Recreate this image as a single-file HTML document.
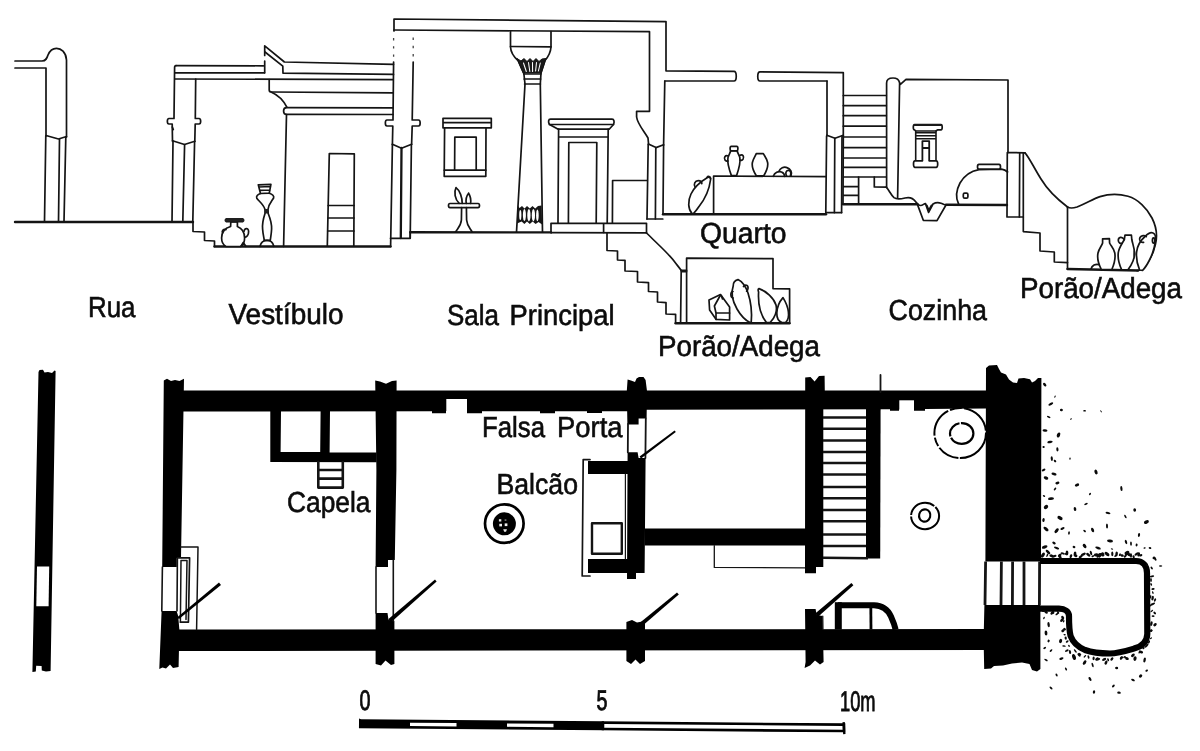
<!DOCTYPE html>
<html lang="pt">
<head>
<meta charset="utf-8">
<title>Casa - Corte e Planta</title>
<style>
html,body{margin:0;padding:0;background:#fff;}
body{width:1200px;height:751px;overflow:hidden;}
svg{display:block;filter:blur(0.45px);}
.l{fill:none;stroke:#141414;stroke-width:1.7;stroke-linecap:round;stroke-linejoin:round;}
.lw{fill:#fff;stroke:#141414;stroke-width:1.7;stroke-linecap:round;stroke-linejoin:round;}
.t{fill:none;stroke:#141414;stroke-width:2.4;stroke-linecap:round;stroke-linejoin:round;}
.k{fill:#000;stroke:none;}
.w{fill:#fff;stroke:none;}
.lab{font-family:"Liberation Sans","DejaVu Sans",sans-serif;font-size:29px;fill:#0c0c0c;stroke:#0c0c0c;stroke-width:0.6;text-rendering:geometricPrecision;}
.num{font-family:"Liberation Sans","DejaVu Sans",sans-serif;font-size:28.5px;fill:#0c0c0c;stroke:#0c0c0c;stroke-width:0.9;text-rendering:geometricPrecision;}
</style>
</head>
<body>
<svg width="1200" height="751" viewBox="0 0 1200 751">
<rect x="0" y="0" width="1200" height="751" fill="#fff"/>

<!-- ================= SECTION (top) ================= -->
<g id="section">

<!-- street ground + steps down into vestibule -->
<path class="t" d="M15,222 L193,222"/>
<path class="l" d="M193,222 L193,231.5 L204.5,232 L204.5,240.5 L214.5,241 L214.5,246.5"/>
<path class="t" d="M214.5,246.5 L390.5,246.5"/>

<!-- street pillar -->
<path class="l" d="M15,61 L42,61 C46,61 47,58 48,55 C50,50 53,48.3 56.5,48.3 C61,48.3 66,52 66.5,60 L66.5,137"/>
<path class="l" d="M15,68 L46,68 L46,136"/>
<path class="l" d="M46,135.5 L58.5,139 L66.5,136.5"/>
<path class="l" d="M45.8,136 L44.5,222 M59.5,139 L58.5,222 M65.8,137 L64,222"/>

<!-- vestibule left pillar + roof lines -->
<path class="l" d="M176,65.6 L263.5,65.8 M175,72.8 L264.5,72.8 M175,79 L393,79.6"/>
<path class="l" d="M176,65.6 C174.8,65.6 174.6,66.2 174.6,67.5 L174,118.5 L169,118.5 C166.8,118.5 166.8,124 169,124 L172.2,124 L172.5,141"/>
<path class="l" d="M195.7,79 L195.3,118.5 L199,118.5 C201.2,118.5 201.2,124 199,124 L195.2,124 L194.8,141.5"/>
<path class="l" d="M172.5,140.8 L184.5,144.5 L194.8,141.3"/>
<path class="l" d="M173,141 L172,222 M184.6,144.5 L182.8,222 M194.6,141.5 L192.8,222"/>
<path class="l" d="M172.3,127 L173.3,129.5"/>

<!-- vestibule roof ramp -->
<path class="l" d="M264.7,72.8 L264.7,61 M264.7,55.5 L264.7,45.8 L284.4,62 L393.5,64.4"/>
<path class="l" d="M265,52 L282.8,66.2 L283,73.2 L393.5,74.4"/>


<!-- cornice of chapel -->
<path class="l" d="M269.2,79.5 L269.2,90 C269.2,91.5 270,92 271.5,92 L393,92.8"/>
<path class="l" d="M271.5,92.2 Q281.5,96.5 287,107.3"/>
<path class="l" d="M393,107.8 L286.5,107.6 C282.6,107.6 282.6,114.4 286.5,114.4 L393,114.5"/>
<path class="l" d="M286.5,114.5 L283.6,246.5"/>
<!-- chapel door -->
<path class="l" d="M327.3,246 L329.3,153.5 L354.3,153.8 L353.8,246"/>
<path class="l" d="M328.2,205.5 L354,205.5 M328,218 L354,218 M327.7,231 L354,231"/>

<!-- pot in vestibule -->
<path class="lw" d="M230.8,222 L230.6,226.5 C224,228.5 221.6,233 221.6,238 C221.6,242 223.5,245 226,246.5 L240.5,246.5 C243,245 244.6,242 244.6,238 C244.6,233 242.5,228.5 237.4,226.5 L237.4,222 Z"/>
<path d="M226,218.6 L243,218.6 C244.3,218.6 244.3,222 243,222 L226,222 C224.7,222 224.7,218.6 226,218.6 Z" fill="#222" stroke="#141414" stroke-width="1"/>
<path class="l" d="M222.5,233 C221.5,230.5 223.5,228.8 226,229.6"/>
<path class="l" d="M244,231.5 C244.5,228 248.5,227.5 248.6,231.5 C248.7,235 246.5,237.5 244.8,237"/>
<path class="l" d="M241,246.3 L243.3,242.5 L245.8,246.3"/>
<!-- tall stand in vestibule -->
<path class="l" d="M258.3,184.8 L270.9,184.3 L269.3,193.2 L260.5,193.5 Z M258.8,187 L270.6,186.5 M259.7,190.3 L270,190"/>
<path class="l" d="M260.5,193.5 C257.5,194.5 256,196.5 256.8,198.2 C258.5,201 263.5,204 265,209.5 L265,213.5 C263.5,218 262.2,224 262.6,229 C262.9,234 264,238 264.3,240.3"/>
<path class="l" d="M269.3,193.2 C272.5,194.2 274.3,196.2 273.6,198 C272,201 268.6,204 268,209.5 L268.2,213.5 C270,218 271.8,224 271.6,229 C271.4,234 270.5,238 270.3,240.3"/>
<path d="M264.8,209 L268.3,209 L268.3,213.5 L264.8,213.5 Z" fill="#222"/>
<path class="l" d="M264.3,240.3 L270.3,240.3"/>
<path class="l" d="M260,246.3 C261,242 264,240.4 267,240.4 C270.5,240.4 273,242.5 273.8,246.3"/>

<!-- pillar between vestibule and main hall -->
<path class="l" d="M393.6,62 L393,120 L387,120 C384.8,120 384.8,126 387,126 L392.8,126 L392.4,144.5"/>
<path class="l" d="M413.2,62 L412.2,120 L418.5,120 C420.7,120 420.7,126 418.5,126 L412.2,126 L411.6,144.5"/>
<path class="l" d="M392.4,144.2 L401.5,148.2 L411.6,144.2"/>
<path class="l" d="M392.4,144.5 L390.6,246.5 M411.4,144.5 L410.2,238"/>
<path class="l" d="M401.5,148 L400.8,238" style="stroke-width:2.3;"/>
<path class="l" d="M390.5,238.3 L410.2,238.3 L410.2,232"/>
<path d="M393.6,38 L393.6,58 M413.2,37.6 L413.2,58" fill="none" stroke="#444" stroke-width="1.3" stroke-dasharray="2.4 5.8" stroke-linecap="butt"/>

<!-- main hall roof -->
<path class="l" d="M394,31 L394,19 L666,21.6 L666,70.8 L734,71.3 C737,71.3 737,81 734,81 L664.8,81"/>
<path class="l" d="M394,30 L649.5,31.7 L649.5,111.3 L636.6,111.3 L636.6,117 C637.5,124 644,131 648,138 L648.6,144.3"/>
<path class="l" d="M664.8,81 L663.6,145"/>
<path class="l" d="M648.4,144 L656,147.6 L663.6,144.8"/>
<path class="l" d="M648.2,144.5 L647,219 M655.8,147.6 L655.4,219 M663.6,145 L663,214.3"/>
<path class="l" d="M647,219 L662.8,219"/>

<!-- main hall floor -->
<path class="t" d="M410.2,232.2 L551,232.4"/>
<path class="l" d="M551,232.6 L646.5,232.8"/>

<!-- niche window in main hall -->
<path class="l" d="M443,118.3 L491.3,118.3 L491.3,127.8 L443,127.8 Z M443,122.6 L491.3,122.6"/>
<path class="l" d="M444.6,127.8 L444.2,176.3 L485.8,176.3 L486,127.8"/>
<path class="l" d="M444.3,170.2 L485.8,170.2"/>
<path class="l" d="M454.6,170 L454.8,137.2 L476.2,137.2 L476.2,170"/>

<!-- table in main hall -->
<path class="lw" d="M450,203.5 L478,203.5 C480,203.5 480,207.6 478,207.6 L450,207.6 C448,207.6 448,203.5 450,203.5 Z"/>
<path class="l" d="M461.6,207.6 L461.4,220 C461,226 457.5,228.5 455.5,232 M466.4,207.6 L466.6,220 C467,226 470.5,228.5 472.2,232"/>
<path class="l" d="M456,187.6 C453.8,192 454.8,199.5 459.2,203.3 M456,187.6 C460,190.5 462.2,197.5 462.2,203.3"/>
<path class="l" d="M468.6,193.2 C466,196.5 465.8,200.5 466.3,203.3 M468.6,193.2 C470.6,196.5 471,200.5 470.6,203.3"/>

<!-- big column -->
<path class="l" d="M510.5,31 L510.5,47 C510.8,53 514,57 518,60.5 L523.5,73 M551,31.5 L551,47 C550.6,53 548,57 545,60.5 L541,73"/>
<path class="l" d="M510.5,46.5 L551,46.8"/>
<path d="M517,58.5 L521,61 L524,58.6 L527,61.5 L530,58.6 L533,61.5 L536,58.6 L539,61.5 L542,59 L546,58.5 L541.2,73 L523.3,73 Z" fill="#1a1a1a" stroke="#141414" stroke-width="1"/>
<path d="M523.5,63 L526.3,71.5 M528.5,62.5 L529.8,71.5 M532.5,62.5 L532.6,71.5 M536.5,62.5 L535.6,71 M540.3,63 L538.4,71" stroke="#fff" stroke-width="1.05" fill="none" stroke-linecap="round"/>
<path class="l" d="M523.8,74 L540.8,74 M524.2,79 L540.6,79 M524.6,84 L540.4,84"/>
<path class="l" d="M523.8,73 L525,84 L516.5,232 M541,73 L540.3,84 L542.5,232"/>
<!-- column base decor -->
<path d="M517.8,205.5 L519.5,208 L522,206 L524.5,208.5 L527,206 L529.8,208.5 L532.5,206 L535.2,208.5 L538,206 L541.6,205.5 L542.1,224.5 L538.5,222 L535.6,224 L532.6,221.6 L529.8,224 L527,221.6 L524.4,224 L521.6,221.6 L517,223.5 Z" fill="#161616"/>
<ellipse cx="520.3" cy="215" rx="1.1" ry="5" fill="#fff"/>
<ellipse cx="524.4" cy="215" rx="1.5" ry="6" fill="#fff"/>
<ellipse cx="528.9" cy="215.2" rx="1.6" ry="6.2" fill="#fff"/>
<ellipse cx="533.4" cy="215.2" rx="1.6" ry="6.2" fill="#fff"/>
<ellipse cx="537.4" cy="215.4" rx="1.3" ry="5.8" fill="#fff"/>

<!-- false door -->
<path class="l" d="M550.5,119.2 L612,119.2 C614.3,119.2 614.5,122 613.5,124.5 L609.2,129.2 L558.2,129.2 L549.5,124.5 C548,122 548.3,119.2 550.5,119.2 Z"/>
<path class="l" d="M549.5,124.5 L613.5,124.5"/>
<path class="l" d="M558.6,129.2 L558,223 M608.2,129.2 L607.2,223 M558.5,137 L608,137"/>
<path class="l" d="M568.4,223 L568.8,142.5 L596.8,142.5 L596.2,223"/>
<!-- bench -->
<path class="l" d="M612.4,223 L612.6,180.5 L647.3,180.5"/>
<!-- dais -->
<path class="l" d="M551,232.5 L551,223.3 L646.5,223.3 L646.5,232.5 M603.6,223.3 L603.6,232.5"/>

<!-- stairs down to cellar -->
<path class="l" d="M607,233 L607,250.5 L617.5,251 L617.5,260 L625,260.3 L625,271 L637.5,271.5 L637.5,282 L648.5,282.6 L648.5,291.5 L657.5,292 L657.5,302 L666,302.6 L666,314 L675.6,314.3 L675.6,323"/>
<path class="t" d="M675.6,323.2 L789.5,323.2"/>
<path class="l" d="M646.5,233 C656,242.5 668,253 674,261 C677,265 679.5,268 681.3,270.5"/>
<path class="l" d="M681,270.3 L686.6,270.3 M681,271.6 L686.6,271.6 M681.2,271 L680.6,323"/>
<path class="l" d="M686.6,323 L686.6,258.2 L773,258.6 L773,288.6 L789.6,288.8 L789.6,323"/>

<!-- cellar jars -->
<path class="l" d="M709,300 L720.5,294.6 L729.6,307 L729.6,320 L716,319.3 L709.6,310 Z"/>
<path class="l" d="M720.5,295 L714.4,306 L716,313 L729.6,313 M716,313 L716,319.3 M721.5,296 L722.5,299"/>
<path class="lw" d="M738,279.6 C735,280.5 733,282.5 733.2,286 C731,292 732.5,301 737,309 C741,316 746,320.5 750,322.6 L751.2,322.6 C752,314 751,302 748,293 C745.8,287 742,281.5 738,279.6 Z"/>
<path class="l" d="M733,291.5 C730.3,291.5 730,297.5 733.2,298"/>
<path class="l" d="M743.5,286.5 C745,284 748.5,285 748,288.5 C747.8,290 747,291 746.6,291.2"/>
<path class="lw" d="M759,288.6 C757.8,289 758,290.5 758.6,292 C758,302 759.5,314 766.5,322.6 L770,322.6 C775,318 777.5,311 776,305 C774,298 766,291 759,288.6 Z"/>
<path class="lw" d="M783,297.6 C780,301 777,307 776.8,313 C776.7,318 779,321.5 782,322.6 L785.6,322.6 C788,320 789,316 788.4,312 C788,308 786,302.5 783,297.6 Z"/>

<!-- Quarto: roof right part and wall -->
<path class="l" d="M827,81 L760,81 C757,81 757,71.8 760,71.8 L843.3,72.6 L843.3,136"/>
<path class="l" d="M827,81 L827,135.6"/>
<path class="l" d="M826.8,135.2 L835,138.3 L843.3,135.2"/>
<path class="l" d="M826.6,136 L825.8,212.6 M834.8,138.3 L834.4,212.6 M842,136 L841.6,212.6"/>
<path class="l" d="M825.8,212.6 L841.6,212.6"/>
<!-- Quarto floor + table -->
<path class="t" d="M663,214.3 L826,214.3"/>
<path class="l" d="M713.6,214 L713.6,176 L826.2,176.6"/>
<!-- leaning jar -->
<path class="lw" d="M692,213.6 C688,209 687.6,201 691,194 C694,188 701,181.5 707.5,177.6 C709,176.6 711,177.6 710.6,179.5 C709.5,188 705,199 699,206.5 C697,209.5 694.5,212.5 693.4,213.6 Z"/>
<path class="l" d="M695.2,187.2 C693.2,184.2 695,180.6 698.2,180.6 C701,180.6 702,182.5 701.8,183.6"/>
<path class="l" d="M707,177.4 C708,175.8 710.6,176.4 710.6,178.6"/>
<!-- amphora on table -->
<path class="lw" d="M731.4,175.6 C729,169 727,162 728,157.5 C728.8,154.5 730.4,153 730.6,150.6 L737.2,150.6 C737.4,153 739,154.5 739.8,157.5 C740.8,162 738.8,169 736.6,175.6 Z"/>
<path class="lw" d="M731.3,146.3 L736.7,146.3 C738.3,146.3 738.3,150.8 736.7,150.8 L731.3,150.8 C729.7,150.8 729.7,146.3 731.3,146.3 Z"/>
<path class="l" d="M728.4,156 C725,154.5 723.6,158 725,160 C726,161.5 727.8,161.3 728,161"/>
<path class="l" d="M739.6,155.5 C743,153.6 744.4,157 743,159.2 C742,160.6 740.3,160.6 740,160.2"/>
<!-- jar 2 on table -->
<path class="lw" d="M756.3,175.8 C753.3,171 751.6,166.5 752.4,162.5 C753.2,158.5 755.3,156 756.3,153.6 L763.3,153.6 C764.6,156 766.8,158.5 767.6,162.5 C768.4,166.5 766.6,171 763.8,175.8 Z"/>
<!-- object 3 -->
<path class="l" d="M773.3,176.3 C774.5,172.5 778.5,170.8 781.5,172 C784,173 784.6,175 784.6,176.3"/>
<path class="l" d="M779,171.3 C780,168 784,166.3 787,167.6 C790.5,169 792.6,172.5 791,176"/>
<path class="l" d="M786.6,176 C785,173 786,170.6 788.3,170.4 C790.5,170.3 791.5,173 790.3,176"/>

<!-- stairs Quarto->Kitchen -->
<path class="l" d="M843.3,95.5 L886.3,95.5 M843.3,105.6 L886.3,105.6 M843.3,115.7 L886.3,115.7 M843.3,126.2 L886.3,126.2 M843.3,137 L886.3,137 M843.3,147.6 L886.3,147.6 M843.3,158 L886.3,158 M843.3,167.3 L886.3,167.3 M843.3,177 L886.3,177"/>
<path class="l" d="M843.3,136 L843,204 M843,186.6 L858.6,186.6 M843,195.3 L858.6,195.3 M858.6,177 L858.6,204"/>
<path class="l" d="M874.3,177 L874.3,187 L886.3,187.2"/>
<!-- kitchen wall left pillar -->
<path class="l" d="M886.6,187.5 L886.6,83 C886.6,79.5 889.5,78 893,78 C896.5,78 899,79.8 899.5,82.5 L900.4,84.3 L906,79.3 L1008,80 L1008,152.5"/>
<path class="l" d="M899.6,83.5 L897.6,198"/>
<!-- wavy ground line into kitchen -->
<path class="l" d="M886.3,187.2 C889,190 891,195 894,197.6 C897,200 901,199 905,198 C909,197 913,198 915.5,201.5 C917,203.5 918.5,205.5 920.5,205.5 C923,205.5 924,203.3 925.5,203.6 L928.6,212.4 L933,204 C935.5,202.6 939,202.6 941,203.3 C943,204 944.6,205 946,205"/>
<path class="l" d="M917.5,204.6 L923.3,220.3 L937,220.6 L946,205"/>
<path class="l" d="M926.8,205.5 L928.8,210.5 L931.4,205.6" style="stroke-width:2;"/>
<!-- kitchen floor -->
<path class="t" d="M843,204.3 L917.5,204.3 M946,204.8 L1007,205"/>
<!-- kitchen niche -->
<path class="lw" d="M914.5,124.6 L941,124.6 C942.6,124.6 942.6,129.8 941,129.8 L937.5,129.8 L936,131 L915.8,131 L914.5,129.8 C912.9,129.8 912.9,124.6 914.5,124.6 Z" style="stroke-width:1.7;"/>
<path d="M914,124 L941.6,124 L941.6,126 L914,126 Z" fill="#1a1a1a"/>
<path class="l" d="M915.7,131 L915.7,160.8 M936,131 L936,160.8 M915.7,132.7 L936,132.7 M915.7,135.7 L936,135.7 M915.7,138.7 L936,138.7" style="stroke-width:1.6;"/>
<path class="l" d="M922.4,161 L922.4,141.2 L929.2,141.2 L929.2,161 M922.4,148 L929.2,148" style="stroke-width:1.8;"/>
<path class="lw" d="M922.4,160.8 L915,160.8 C913,160.8 913,167.4 915,167.4 L936.2,167.4 C938.2,167.4 938.2,160.8 936.2,160.8 L929.2,160.8" style="stroke-width:1.7;"/>
<!-- oven -->
<path class="l" d="M958.6,204 C955.6,198 956.3,190 960,183 C964,176 971,171 979,169.6 L1001.5,169.2 C1004,169.6 1006,170.6 1007.6,172"/>
<path class="lw" d="M979,164.4 L999,164.4 C1001,164.4 1001,169.2 999,169.2 L979,169.2 C977,169.2 977,164.4 979,164.4 Z"/>
<rect x="963.3" y="193.2" width="4.6" height="5" rx="1.4" class="l"/>

<!-- right of kitchen: box, slope, stairs, cellar -->
<path class="l" d="M1007.4,152.5 L1025,152.8 M1007.3,152.5 L1007,217 L1023.3,217"/>
<path class="l" d="M1019.7,153 L1019.4,217 M1023.3,153 L1023.3,231.6 L1040,233 L1040,251 L1054.3,252 L1054.3,262 L1067.5,262.6"/>
<path class="l" d="M1025,152.8 C1029,157 1034,168 1041,179 C1047,189 1057,199 1067.5,207"/>
<path class="l" d="M1067.5,207 L1067.5,269"/>
<path class="l" d="M1067.5,207 C1070,208.6 1073,208.3 1077,207 C1086,203.5 1093,199 1100,196.6 C1108,194.2 1119,193.8 1128,196.3 C1138,199.3 1147,208 1152,218 C1156,226 1157.5,236 1155.5,244 C1153.5,253 1149,262 1143,268 C1141,270 1139,270.6 1137,270.6"/>
<path class="t" d="M1067.5,269 L1138,270.5"/>
<!-- cellar jars right -->
<path class="l" d="M1091,269 C1092,265.5 1095.5,263.6 1099,264.6"/>
<path class="lw" d="M1101.3,269.3 C1098.5,264 1097,258 1098,253 C1099,248.5 1102,245.5 1102.6,243 L1102.6,238.8 L1109.4,238.6 L1109.6,243 C1110.5,245.5 1114,248.5 1114.8,253 C1115.6,258 1114.3,264 1111.8,269.5 Z"/>
<path class="lw" d="M1121.6,269.6 C1119,264 1117.6,258 1118.3,252.5 C1119,247.5 1122.5,243 1124.3,239.5 L1125,235.2 L1131.4,235 L1131.8,239.5 C1132.5,243.5 1134.4,248 1134.6,253 C1134.8,259 1131.5,265 1128,269.8 Z"/>
<path class="l" d="M1124.3,239.5 C1122,236 1118.3,237 1118.3,240.3 C1118.3,243 1120.5,243.8 1122,243.3"/>
<path class="lw" d="M1139.6,270 C1137.5,265 1136,258 1136.6,252 C1137.2,246 1140.5,240.5 1145,236.5 C1147,234.5 1149.5,232.6 1151.5,232.6 C1153.5,232.6 1155.3,234.5 1155.5,237 C1155.6,243 1153.5,252 1149.5,260 C1147.5,264 1145,268 1142.6,270.3 Z"/>
<path class="l" d="M1143.6,242.3 C1140.5,243 1138.6,240 1140,237.5 C1141.3,235.3 1144.6,235 1146.3,236.6"/>
<ellipse cx="1153.6" cy="240.5" rx="1.2" ry="2.6" class="l"/>
<path d="M1134.2,249 C1135.6,252 1135.6,256 1134.2,259 C1133,256 1133,252 1134.2,249 Z" fill="#1a1a1a"/>
</g>

<!-- ================= LABELS ================= -->
<g id="labels" class="lab">
<text x="88" y="317" textLength="47.5" lengthAdjust="spacingAndGlyphs">Rua</text>
<text x="228.5" y="324" textLength="115" lengthAdjust="spacingAndGlyphs">Vestíbulo</text>
<text y="325"><tspan x="447" textLength="52" lengthAdjust="spacingAndGlyphs">Sala</tspan> <tspan x="509.5" textLength="105" lengthAdjust="spacingAndGlyphs">Principal</tspan></text>
<text x="700" y="243" textLength="86.5" lengthAdjust="spacingAndGlyphs">Quarto</text>
<text x="658" y="355.5" textLength="162" lengthAdjust="spacingAndGlyphs">Porão/Adega</text>
<text x="888.5" y="319.5" textLength="98.5" lengthAdjust="spacingAndGlyphs">Cozinha</text>
<text x="1020" y="297.5" textLength="162" lengthAdjust="spacingAndGlyphs">Porão/Adega</text>
<text y="437.2"><tspan x="482" textLength="63" lengthAdjust="spacingAndGlyphs">Falsa</tspan> <tspan x="557" textLength="65.5" lengthAdjust="spacingAndGlyphs">Porta</tspan></text>
<text x="496.5" y="493.5" textLength="81.5" lengthAdjust="spacingAndGlyphs">Balcão</text>
<text x="287" y="511.5" textLength="83.5" lengthAdjust="spacingAndGlyphs">Capela</text>
</g>

<!-- ================= PLAN (bottom) ================= -->
<g id="plan">
<!-- street wall -->
<path class="k" d="M38.5,372 L39.5,370 L43,369.8 L44.5,372.5 L48,372 L52,373 L54.5,370.5 L55.6,371 L50.6,671 L46,671.6 L41.8,670.6 L41.6,666 L36.2,665.8 L35.8,671.6 L32.4,672 Z"/>
<path class="w" d="M37,566.4 L49.2,566.4 L48.6,606.3 L36.3,606.3 Z"/>

<!-- top wall -->
<path class="k" d="M183,390.5 L986,390.5 L986,408.4 L925,409 L925,410.8 L914,410.8 L914,409.4 L899,409.4 L899,410.8 L890,410.8 L890,409.2 L646,409.8 L628,411.2 L602,411.3 L602,413 L587,413 L587,411.3 L555,411.3 L555,413.2 L540,413.2 L540,411.3 L482,411.3 L482,413.2 L467,413.2 L467,411 L446,411 L446,413.2 L432,413.2 L432,411.3 L183,411.5 Z"/>
<path class="w" d="M446.3,399 L467,399 L467,413.6 L446.3,413.6 Z"/>
<path class="w" d="M899.3,400.3 L914,400.3 L914,411.2 L899.3,411.2 Z"/>
<!-- bottom wall -->
<path class="k" d="M178,629.5 L986,629 L986,650 L178,651 Z"/>

<!-- left house wall -->
<path class="k" d="M163.8,380.5 L167,378.8 L171,381 L175,380 L179.5,381 L184,378.8 L181,558 L176.8,558 L176.8,567 L162.2,567 Z"/>
<path class="k" d="M161.6,611 L176.6,611 L178.2,616 L179.4,630 L178.6,667 L173,668 L170,664.5 L166,668.5 L162.5,667.5 L159.3,669 Z"/>
<path class="l" d="M162.4,567 L161.8,611 M177.4,558 L177,611" style="stroke-width:1.6;"/>
<!-- door step rects -->
<path class="l" d="M181,547 L198,547 L196.6,629.5" style="stroke-width:1.5;"/>
<path class="l" d="M177.6,557.8 L189.6,557.8 L188.4,622.2 L180.4,622.2" style="stroke-width:1.7;"/>
<path class="l" d="M181,560.6 L187,560.6 L186,619.6 M181,560.6 L180.4,622" style="stroke-width:1.5;"/>
<path d="M177,617.5 L219,582.5 L221,585 L179,619 Z" class="k"/>

<!-- chapel walls -->
<path class="k" d="M270.3,411 L281,411 L280.6,452 L320.2,452 L320.6,411 L330,411 L329.6,452.4 L376.6,452.6 L376.6,462.2 L270.3,462 Z"/>
<!-- chapel steps -->
<path class="l" d="M318.3,462 L318.3,487.6 L342.8,487.6 L342.8,462 M318.3,470 L342.8,470 M318.3,478.6 L342.3,478.6" style="stroke-width:2.6;"/>

<!-- wall vestibule / main hall -->
<path class="k" d="M375.2,380.6 L380,381.4 L386,383.8 L392,381 L396.6,380.6 L396.4,470 L394.8,560 L388,560 L388,567 L375.6,567 L376.4,470 Z"/>
<path class="k" d="M375.6,613 L387.5,613 L388.5,620 L394.4,621 L394.4,664 L391,665 L385.5,660.5 L381,665.5 L375.6,664 Z"/>
<path class="l" d="M376,567 L376,613 M393.3,560 L393.3,621" style="stroke-width:1.6;"/>
<path d="M388.2,619.2 L435,579.6 L436.6,581.4 L390.8,622.4 Z" class="k"/>

<!-- wall main hall / quarto -->
<path class="k" d="M626.8,391 L627.6,379.6 L631,380.6 L635,382 L636.5,378.5 L639,377 L643.5,377 L645.6,380 L647,391 L646.6,418.6 L638.6,418.6 L638.6,424.4 L627.4,424.4 Z"/>
<path class="k" d="M627.6,452.3 L637.6,452.3 L638.6,458 L645.6,458 L644.6,573 L636,573 L636,579 L627,579 Z"/>
<path class="l" d="M628,424 L627.8,452.3 M645.8,418.5 L645.4,458" style="stroke-width:1.8;"/>
<path d="M639.6,456.6 L674.6,430.4 L675.8,432 L641,458.6 Z" class="k"/>
<!-- balcony -->
<path class="k" d="M588,461 L628,461 L628,474 L588,474 Z"/>
<path class="k" d="M588,559 L628,559 L628,573 L588,573 Z"/>
<path class="l" d="M590,459.6 L583.2,459.6 L582.2,576 L590,576" style="stroke-width:1.7;"/>
<path class="l" d="M625.4,474 L625.4,559" style="stroke-width:1.2;"/>
<path class="l" d="M592,523.2 L621.8,523.2 L621.8,553.8 L592,553.8 Z" style="stroke-width:2.4;"/>

<!-- quarto bottom wall + bed -->
<path class="k" d="M644.6,528.5 L806,528.5 L806,545.6 L644.6,545.6 Z"/>
<path class="l" d="M714.3,545.6 L714.3,567.4 L806,567.8" style="stroke-width:1.3;"/>

<!-- stairs (plan) -->
<path class="k" d="M805.2,377.6 L810.5,377 L814.6,381.5 L819,376 L824.6,375.8 L824.8,391 L823.3,391 L823.3,567 L816,567 L816,573.3 L805,573.3 Z"/>
<path class="k" d="M866,409 L880.6,409 L880.2,558.6 L866,558.6 Z"/>
<path class="l" d="M880.5,375 L880.5,392" style="stroke-width:1.8;"/>
<path class="l" d="M823,417.5 L866,417.5 M823,428.8 L866,428.8 M823,440.4 L866,440.4 M823,452 L866,452 M823,463 L866,463 M823,474.6 L866,474.6 M823,487 L866,487 M823,498.3 L866,498.3 M823,510 L866,510 M823,521.3 L866,521.3 M823,534.5 L866,534.5 M823,546 L866,546 M823,557.8 L868,558.2" style="stroke-width:2.5;stroke-linecap:butt;"/>

<!-- bottom piers -->
<path class="k" d="M626.4,622 L632,620 L637,622.5 L645,621 L645,661 L640,664 L635.5,659.5 L631,664 L626.4,661 Z"/>
<path d="M640.2,622.6 L677,592.4 L678.8,594.4 L642.8,625.4 Z" class="k"/>
<path class="k" d="M805,609 L815.6,609 L816.6,615 L822.6,616 L823.6,662 L820,664.5 L815,660.5 L810,665.5 L804.6,668 L805.6,662 Z"/>
<path d="M815.2,613.6 L851.4,583 L853.4,585.2 L817.8,617 Z" class="k"/>
<!-- kitchen shape near door -->
<path d="M838,605.2 L874,605.3 C883,605.6 888,610 891,616.5 C893,621 894.6,625 895.6,629.5" fill="none" stroke="#000" stroke-width="6" stroke-linecap="butt"/>
<path d="M838.3,602.2 L838.3,629.5" fill="none" stroke="#000" stroke-width="7"/>
<path d="M870.8,606 L871,629.5" fill="none" stroke="#000" stroke-width="2.8"/>
<path class="l" d="M822.8,616 L823,629.5" style="stroke-width:1.2;"/>

<!-- circles -->
<circle cx="504.3" cy="523.6" r="19.3" fill="none" stroke="#000" stroke-width="2.7"/>
<circle cx="504.4" cy="523.8" r="11.5" fill="#000"/>
<rect x="498.9" y="519.2" width="2.4" height="2.3" fill="#e8e8e8"/>
<rect x="504.6" y="519.3" width="1.8" height="1.6" fill="#777"/>
<rect x="499.3" y="523.8" width="2.7" height="2.6" fill="#f2f2f2"/>
<rect x="504.7" y="523.4" width="2.7" height="2.7" fill="#f2f2f2"/>
<path d="M503.2,529.2 L507,529.2 L506,531.8 L504.2,531.8 Z" fill="#e8e8e8"/>
<ellipse cx="960.2" cy="433" rx="25.8" ry="25" fill="none" stroke="#000" stroke-width="2" stroke-dasharray="40 1.5 22 2 9 2 30 2 12 2.5 33 2"/>
<ellipse cx="961.7" cy="433.5" rx="11.7" ry="10.4" fill="none" stroke="#000" stroke-width="2.2" stroke-dasharray="30 1.5 18 1.5 40 2"/>
<ellipse cx="925.1" cy="516" rx="14" ry="13.2" fill="none" stroke="#000" stroke-width="2" stroke-dasharray="42 1.5 30 1.5"/>
<ellipse cx="924.7" cy="515.5" rx="5.6" ry="6.2" fill="none" stroke="#000" stroke-width="2.1" transform="rotate(15 924.7 515.5)"/>

<!-- thick right wall -->
<path class="k" d="M986,368 L989,365.5 L997,365 L999,369 L1001,372.5 L1006,374.5 L1009,379.5 L1013,382.5 L1017,383 L1018.5,378.6 L1024,378 L1030,379.3 L1032,382.5 L1035,381 L1038,378 L1041.4,378 L1041,561.6 L985.4,561.6 Z"/>
<path class="k" d="M984.4,605 L1040.4,605 L1040.4,669 L1037,671.5 L1032,670 L1029.5,664 L1022,662.4 L1012,663.6 L1003,665.4 L994,666 L991,668.6 L984.2,669 L983.6,640 Z"/>
<path class="l" d="M985.6,561.6 L985,605 M1001.4,561.6 L1001,605 M1012.6,561.6 L1012.4,605 M1024,561.6 L1024,605 M1039.6,561.6 L1039.4,605" style="stroke-width:2.8;stroke-linecap:butt;"/>

<!-- underground cellar (plan) -->
<path d="M1040,561 L1136,561 C1143,561 1147,566 1147,573 L1147.3,634 C1147,642 1142,646.5 1134,648.6 C1126,651 1118,653.5 1110,653.5 C1101,653.5 1092,652.6 1085,650 C1078,647 1073,642.5 1070.6,636 C1069,630 1069,622 1069,616 C1069,611.5 1065,608.8 1059,608.7 L1040,608.6" fill="none" stroke="#000" stroke-width="6.2" stroke-linejoin="round"/>
</g>
<!-- stipple (earth) -->
<g fill="#0a0a0a">
<ellipse cx="1044.7" cy="384.7" rx="2.1" ry="1.3" transform="rotate(49 1044.7 384.7)"/>
<ellipse cx="1055.0" cy="396.6" rx="1.2" ry="0.6" transform="rotate(112 1055.0 396.6)"/>
<ellipse cx="1050.8" cy="404.0" rx="2.7" ry="1.2" transform="rotate(151 1050.8 404.0)"/>
<ellipse cx="1061.4" cy="410.0" rx="1.5" ry="1.3" transform="rotate(13 1061.4 410.0)"/>
<ellipse cx="1084.6" cy="410.8" rx="1.4" ry="0.8" transform="rotate(7 1084.6 410.8)"/>
<ellipse cx="1101.0" cy="411.3" rx="1.3" ry="0.5" transform="rotate(55 1101.0 411.3)"/>
<ellipse cx="1048.7" cy="417.0" rx="1.9" ry="0.8" transform="rotate(24 1048.7 417.0)"/>
<ellipse cx="1071.0" cy="419.0" rx="1.0" ry="0.6" transform="rotate(149 1071.0 419.0)"/>
<ellipse cx="1045.0" cy="430.5" rx="2.5" ry="1.3" transform="rotate(8 1045.0 430.5)"/>
<ellipse cx="1058.5" cy="435.0" rx="2.7" ry="1.6" transform="rotate(113 1058.5 435.0)"/>
<ellipse cx="1050.0" cy="442.0" rx="2.7" ry="1.2" transform="rotate(172 1050.0 442.0)"/>
<ellipse cx="1057.4" cy="449.4" rx="2.1" ry="1.1" transform="rotate(85 1057.4 449.4)"/>
<ellipse cx="1051.8" cy="458.7" rx="2.4" ry="1.1" transform="rotate(84 1051.8 458.7)"/>
<ellipse cx="1055.0" cy="461.0" rx="1.5" ry="1.0" transform="rotate(49 1055.0 461.0)"/>
<ellipse cx="1070.0" cy="458.7" rx="1.1" ry="0.7" transform="rotate(93 1070.0 458.7)"/>
<ellipse cx="1096.0" cy="472.0" rx="2.5" ry="1.5" transform="rotate(70 1096.0 472.0)"/>
<ellipse cx="1054.0" cy="474.0" rx="2.6" ry="1.4" transform="rotate(15 1054.0 474.0)"/>
<ellipse cx="1046.0" cy="478.0" rx="2.4" ry="1.5" transform="rotate(23 1046.0 478.0)"/>
<ellipse cx="1057.4" cy="483.0" rx="2.1" ry="1.3" transform="rotate(163 1057.4 483.0)"/>
<ellipse cx="1077.0" cy="485.0" rx="2.3" ry="1.4" transform="rotate(158 1077.0 485.0)"/>
<ellipse cx="1121.4" cy="488.6" rx="2.5" ry="1.1" transform="rotate(83 1121.4 488.6)"/>
<ellipse cx="1055.0" cy="489.0" rx="1.7" ry="0.9" transform="rotate(129 1055.0 489.0)"/>
<ellipse cx="1090.0" cy="494.0" rx="1.2" ry="0.9" transform="rotate(129 1090.0 494.0)"/>
<ellipse cx="1051.0" cy="498.7" rx="3.0" ry="1.4" transform="rotate(176 1051.0 498.7)"/>
<ellipse cx="1046.0" cy="507.0" rx="2.4" ry="1.8" transform="rotate(142 1046.0 507.0)"/>
<ellipse cx="1086.0" cy="504.0" rx="1.9" ry="0.9" transform="rotate(154 1086.0 504.0)"/>
<ellipse cx="1075.0" cy="509.0" rx="2.1" ry="1.3" transform="rotate(79 1075.0 509.0)"/>
<ellipse cx="1134.7" cy="510.0" rx="1.7" ry="1.4" transform="rotate(87 1134.7 510.0)"/>
<ellipse cx="1108.0" cy="513.0" rx="2.5" ry="1.1" transform="rotate(11 1108.0 513.0)"/>
<ellipse cx="1125.4" cy="516.5" rx="2.0" ry="0.8" transform="rotate(60 1125.4 516.5)"/>
<ellipse cx="1060.0" cy="518.0" rx="2.8" ry="1.8" transform="rotate(26 1060.0 518.0)"/>
<ellipse cx="1146.4" cy="522.0" rx="2.7" ry="1.7" transform="rotate(151 1146.4 522.0)"/>
<ellipse cx="1107.0" cy="526.0" rx="2.6" ry="1.0" transform="rotate(88 1107.0 526.0)"/>
<ellipse cx="1046.0" cy="529.0" rx="3.0" ry="1.5" transform="rotate(39 1046.0 529.0)"/>
<ellipse cx="1056.6" cy="530.7" rx="2.8" ry="1.5" transform="rotate(131 1056.6 530.7)"/>
<ellipse cx="1062.5" cy="528.5" rx="2.3" ry="1.1" transform="rotate(151 1062.5 528.5)"/>
<ellipse cx="1092.6" cy="530.0" rx="2.4" ry="1.4" transform="rotate(68 1092.6 530.0)"/>
<ellipse cx="1084.6" cy="531.0" rx="1.5" ry="0.9" transform="rotate(37 1084.6 531.0)"/>
<ellipse cx="1069.0" cy="533.0" rx="1.8" ry="0.9" transform="rotate(94 1069.0 533.0)"/>
<ellipse cx="1139.0" cy="535.0" rx="1.9" ry="1.1" transform="rotate(96 1139.0 535.0)"/>
<ellipse cx="1110.0" cy="541.0" rx="3.0" ry="1.4" transform="rotate(4 1110.0 541.0)"/>
<ellipse cx="1126.0" cy="542.0" rx="2.2" ry="1.1" transform="rotate(72 1126.0 542.0)"/>
<ellipse cx="1131.0" cy="543.7" rx="2.1" ry="0.9" transform="rotate(88 1131.0 543.7)"/>
<ellipse cx="1136.6" cy="545.0" rx="1.4" ry="1.0" transform="rotate(96 1136.6 545.0)"/>
<ellipse cx="1144.6" cy="548.0" rx="1.2" ry="0.7" transform="rotate(166 1144.6 548.0)"/>
<ellipse cx="1150.0" cy="548.0" rx="1.4" ry="1.0" transform="rotate(22 1150.0 548.0)"/>
<ellipse cx="1044.7" cy="547.0" rx="2.9" ry="1.5" transform="rotate(162 1044.7 547.0)"/>
<ellipse cx="1054.0" cy="543.0" rx="1.9" ry="1.2" transform="rotate(34 1054.0 543.0)"/>
<ellipse cx="1056.6" cy="548.0" rx="2.8" ry="1.1" transform="rotate(23 1056.6 548.0)"/>
<ellipse cx="1074.0" cy="547.0" rx="1.5" ry="1.1" transform="rotate(34 1074.0 547.0)"/>
<ellipse cx="1084.6" cy="546.0" rx="2.5" ry="1.6" transform="rotate(57 1084.6 546.0)"/>
<ellipse cx="1098.0" cy="548.0" rx="2.9" ry="1.2" transform="rotate(18 1098.0 548.0)"/>
<ellipse cx="1067.0" cy="553.0" rx="2.5" ry="1.4" transform="rotate(91 1067.0 553.0)"/>
<ellipse cx="1075.0" cy="554.0" rx="2.6" ry="1.4" transform="rotate(95 1075.0 554.0)"/>
<ellipse cx="1091.0" cy="553.0" rx="2.4" ry="1.1" transform="rotate(74 1091.0 553.0)"/>
<ellipse cx="1107.0" cy="554.0" rx="2.8" ry="1.6" transform="rotate(36 1107.0 554.0)"/>
<ellipse cx="1116.6" cy="554.0" rx="2.6" ry="1.3" transform="rotate(95 1116.6 554.0)"/>
<ellipse cx="1127.0" cy="553.0" rx="2.6" ry="1.9" transform="rotate(154 1127.0 553.0)"/>
<ellipse cx="1136.6" cy="554.0" rx="2.4" ry="1.1" transform="rotate(145 1136.6 554.0)"/>
<ellipse cx="1155.0" cy="558.6" rx="2.4" ry="1.0" transform="rotate(56 1155.0 558.6)"/>
<ellipse cx="1160.6" cy="566.0" rx="1.7" ry="0.7" transform="rotate(179 1160.6 566.0)"/>
<ellipse cx="1048.0" cy="552.0" rx="2.9" ry="1.3" transform="rotate(43 1048.0 552.0)"/>
<ellipse cx="1052.0" cy="556.0" rx="2.7" ry="1.3" transform="rotate(17 1052.0 556.0)"/>
<ellipse cx="1060.0" cy="555.0" rx="1.8" ry="1.2" transform="rotate(142 1060.0 555.0)"/>
<ellipse cx="1082.0" cy="555.0" rx="1.7" ry="1.1" transform="rotate(123 1082.0 555.0)"/>
<ellipse cx="1100.0" cy="555.5" rx="2.4" ry="1.4" transform="rotate(122 1100.0 555.5)"/>
<ellipse cx="1122.0" cy="555.5" rx="1.9" ry="1.2" transform="rotate(20 1122.0 555.5)"/>
<ellipse cx="1131.0" cy="555.5" rx="2.2" ry="1.0" transform="rotate(90 1131.0 555.5)"/>
<ellipse cx="1112.0" cy="549.0" rx="1.2" ry="0.6" transform="rotate(12 1112.0 549.0)"/>
<ellipse cx="1043.5" cy="520.0" rx="2.1" ry="1.2" transform="rotate(99 1043.5 520.0)"/>
<ellipse cx="1044.0" cy="496.0" rx="1.3" ry="0.7" transform="rotate(26 1044.0 496.0)"/>
<ellipse cx="1043.6" cy="470.0" rx="2.0" ry="1.1" transform="rotate(151 1043.6 470.0)"/>
<ellipse cx="1043.6" cy="447.0" rx="1.2" ry="1.0" transform="rotate(17 1043.6 447.0)"/>
<ellipse cx="1048.6" cy="624.7" rx="2.6" ry="1.2" transform="rotate(83 1048.6 624.7)"/>
<ellipse cx="1046.0" cy="633.0" rx="2.5" ry="1.4" transform="rotate(84 1046.0 633.0)"/>
<ellipse cx="1048.6" cy="641.0" rx="1.4" ry="1.1" transform="rotate(108 1048.6 641.0)"/>
<ellipse cx="1044.7" cy="648.0" rx="1.5" ry="1.0" transform="rotate(151 1044.7 648.0)"/>
<ellipse cx="1051.0" cy="650.6" rx="1.7" ry="0.9" transform="rotate(133 1051.0 650.6)"/>
<ellipse cx="1046.0" cy="660.0" rx="1.9" ry="0.8" transform="rotate(29 1046.0 660.0)"/>
<ellipse cx="1061.4" cy="658.6" rx="2.2" ry="1.2" transform="rotate(160 1061.4 658.6)"/>
<ellipse cx="1066.8" cy="650.6" rx="2.0" ry="1.0" transform="rotate(154 1066.8 650.6)"/>
<ellipse cx="1060.6" cy="641.0" rx="2.2" ry="1.5" transform="rotate(107 1060.6 641.0)"/>
<ellipse cx="1063.0" cy="630.6" rx="1.8" ry="1.4" transform="rotate(144 1063.0 630.6)"/>
<ellipse cx="1062.0" cy="620.0" rx="2.3" ry="1.3" transform="rotate(133 1062.0 620.0)"/>
<ellipse cx="1074.0" cy="657.0" rx="3.1" ry="1.8" transform="rotate(73 1074.0 657.0)"/>
<ellipse cx="1084.6" cy="662.6" rx="2.5" ry="1.4" transform="rotate(125 1084.6 662.6)"/>
<ellipse cx="1092.6" cy="665.0" rx="2.3" ry="0.9" transform="rotate(73 1092.6 665.0)"/>
<ellipse cx="1066.0" cy="669.0" rx="1.7" ry="0.8" transform="rotate(61 1066.0 669.0)"/>
<ellipse cx="1056.6" cy="675.0" rx="1.6" ry="0.9" transform="rotate(64 1056.6 675.0)"/>
<ellipse cx="1051.0" cy="688.0" rx="1.8" ry="0.9" transform="rotate(41 1051.0 688.0)"/>
<ellipse cx="1090.0" cy="679.0" rx="2.2" ry="1.2" transform="rotate(60 1090.0 679.0)"/>
<ellipse cx="1094.0" cy="692.0" rx="1.7" ry="1.2" transform="rotate(95 1094.0 692.0)"/>
<ellipse cx="1106.0" cy="662.6" rx="2.2" ry="1.3" transform="rotate(115 1106.0 662.6)"/>
<ellipse cx="1116.6" cy="668.0" rx="1.6" ry="1.2" transform="rotate(176 1116.6 668.0)"/>
<ellipse cx="1113.4" cy="686.0" rx="1.7" ry="1.0" transform="rotate(132 1113.4 686.0)"/>
<ellipse cx="1119.0" cy="692.7" rx="1.8" ry="1.1" transform="rotate(9 1119.0 692.7)"/>
<ellipse cx="1127.0" cy="658.6" rx="1.8" ry="1.4" transform="rotate(17 1127.0 658.6)"/>
<ellipse cx="1135.0" cy="658.6" rx="2.4" ry="1.6" transform="rotate(99 1135.0 658.6)"/>
<ellipse cx="1144.6" cy="660.0" rx="2.5" ry="1.2" transform="rotate(102 1144.6 660.0)"/>
<ellipse cx="1146.7" cy="670.6" rx="1.4" ry="1.0" transform="rotate(145 1146.7 670.6)"/>
<ellipse cx="1140.6" cy="676.0" rx="1.8" ry="1.5" transform="rotate(136 1140.6 676.0)"/>
<ellipse cx="1133.0" cy="680.0" rx="2.0" ry="1.0" transform="rotate(28 1133.0 680.0)"/>
<ellipse cx="1151.0" cy="580.0" rx="2.0" ry="0.9" transform="rotate(89 1151.0 580.0)"/>
<ellipse cx="1153.0" cy="589.0" rx="1.7" ry="1.0" transform="rotate(170 1153.0 589.0)"/>
<ellipse cx="1150.4" cy="597.0" rx="1.7" ry="0.9" transform="rotate(107 1150.4 597.0)"/>
<ellipse cx="1155.0" cy="600.0" rx="1.8" ry="0.9" transform="rotate(117 1155.0 600.0)"/>
<ellipse cx="1151.0" cy="605.0" rx="1.6" ry="0.8" transform="rotate(128 1151.0 605.0)"/>
<ellipse cx="1154.7" cy="613.0" rx="1.6" ry="1.0" transform="rotate(44 1154.7 613.0)"/>
<ellipse cx="1155.0" cy="624.7" rx="2.0" ry="1.4" transform="rotate(135 1155.0 624.7)"/>
<ellipse cx="1151.0" cy="630.6" rx="1.4" ry="1.2" transform="rotate(134 1151.0 630.6)"/>
<ellipse cx="1154.0" cy="558.0" rx="1.5" ry="1.3" transform="rotate(170 1154.0 558.0)"/>
<ellipse cx="1147.0" cy="565.0" rx="1.5" ry="1.0" transform="rotate(77 1147.0 565.0)"/>
<ellipse cx="1046.0" cy="612.0" rx="2.1" ry="1.4" transform="rotate(43 1046.0 612.0)"/>
<ellipse cx="1052.0" cy="613.0" rx="1.9" ry="1.3" transform="rotate(130 1052.0 613.0)"/>
<ellipse cx="1057.0" cy="614.0" rx="1.8" ry="0.8" transform="rotate(147 1057.0 614.0)"/>
<ellipse cx="1044.0" cy="618.0" rx="1.4" ry="0.7" transform="rotate(112 1044.0 618.0)"/>
<ellipse cx="1064.0" cy="646.0" rx="1.8" ry="0.8" transform="rotate(9 1064.0 646.0)"/>
<ellipse cx="1070.0" cy="652.0" rx="2.1" ry="1.1" transform="rotate(79 1070.0 652.0)"/>
<ellipse cx="1079.0" cy="655.0" rx="2.0" ry="1.0" transform="rotate(47 1079.0 655.0)"/>
<ellipse cx="1097.0" cy="659.0" rx="2.1" ry="1.4" transform="rotate(140 1097.0 659.0)"/>
<ellipse cx="1122.0" cy="657.5" rx="1.9" ry="0.9" transform="rotate(171 1122.0 657.5)"/>
<ellipse cx="1141.0" cy="652.0" rx="2.2" ry="1.2" transform="rotate(20 1141.0 652.0)"/>
<ellipse cx="1149.0" cy="642.0" rx="1.7" ry="0.9" transform="rotate(112 1149.0 642.0)"/>
<ellipse cx="1042.9" cy="555.2" rx="2.8" ry="1.6" transform="rotate(123 1042.9 555.2)"/>
<ellipse cx="1047.3" cy="555.3" rx="1.9" ry="0.8" transform="rotate(113 1047.3 555.3)"/>
<ellipse cx="1051.9" cy="556.0" rx="1.9" ry="1.1" transform="rotate(44 1051.9 556.0)"/>
<ellipse cx="1054.7" cy="556.1" rx="1.9" ry="1.1" transform="rotate(158 1054.7 556.1)"/>
<ellipse cx="1059.8" cy="556.6" rx="2.3" ry="1.4" transform="rotate(48 1059.8 556.6)"/>
<ellipse cx="1062.8" cy="553.4" rx="2.2" ry="1.0" transform="rotate(18 1062.8 553.4)"/>
<ellipse cx="1066.2" cy="554.1" rx="1.6" ry="0.9" transform="rotate(15 1066.2 554.1)"/>
<ellipse cx="1070.9" cy="556.2" rx="2.0" ry="1.2" transform="rotate(113 1070.9 556.2)"/>
<ellipse cx="1075.7" cy="555.6" rx="1.9" ry="1.3" transform="rotate(37 1075.7 555.6)"/>
<ellipse cx="1080.6" cy="556.7" rx="2.1" ry="1.2" transform="rotate(150 1080.6 556.7)"/>
<ellipse cx="1084.0" cy="554.1" rx="2.0" ry="1.2" transform="rotate(145 1084.0 554.1)"/>
<ellipse cx="1088.3" cy="554.7" rx="2.5" ry="1.3" transform="rotate(38 1088.3 554.7)"/>
<ellipse cx="1092.8" cy="556.2" rx="1.4" ry="0.9" transform="rotate(145 1092.8 556.2)"/>
<ellipse cx="1096.4" cy="554.9" rx="2.6" ry="1.6" transform="rotate(178 1096.4 554.9)"/>
<ellipse cx="1098.8" cy="555.4" rx="3.0" ry="1.4" transform="rotate(134 1098.8 555.4)"/>
<ellipse cx="1102.6" cy="554.4" rx="2.2" ry="1.8" transform="rotate(66 1102.6 554.4)"/>
<ellipse cx="1107.6" cy="554.1" rx="1.3" ry="0.9" transform="rotate(14 1107.6 554.1)"/>
<ellipse cx="1112.3" cy="553.9" rx="2.4" ry="1.1" transform="rotate(87 1112.3 553.9)"/>
<ellipse cx="1115.4" cy="555.8" rx="1.3" ry="0.8" transform="rotate(139 1115.4 555.8)"/>
<ellipse cx="1119.9" cy="554.7" rx="1.4" ry="0.9" transform="rotate(119 1119.9 554.7)"/>
<ellipse cx="1125.4" cy="556.0" rx="2.0" ry="1.0" transform="rotate(130 1125.4 556.0)"/>
<ellipse cx="1129.1" cy="554.6" rx="2.4" ry="1.6" transform="rotate(25 1129.1 554.6)"/>
<ellipse cx="1133.6" cy="556.7" rx="1.5" ry="1.1" transform="rotate(65 1133.6 556.7)"/>
<ellipse cx="1138.7" cy="554.4" rx="2.2" ry="1.3" transform="rotate(102 1138.7 554.4)"/>
<ellipse cx="1140.7" cy="555.3" rx="1.7" ry="1.2" transform="rotate(164 1140.7 555.3)"/>
<ellipse cx="1151.7" cy="568.0" rx="1.6" ry="0.9" transform="rotate(54 1151.7 568.0)"/>
<ellipse cx="1152.0" cy="576.4" rx="2.2" ry="0.9" transform="rotate(168 1152.0 576.4)"/>
<ellipse cx="1151.2" cy="584.4" rx="1.4" ry="0.8" transform="rotate(65 1151.2 584.4)"/>
<ellipse cx="1152.8" cy="592.6" rx="1.5" ry="0.7" transform="rotate(71 1152.8 592.6)"/>
<ellipse cx="1152.6" cy="598.2" rx="2.4" ry="1.2" transform="rotate(101 1152.6 598.2)"/>
<ellipse cx="1153.1" cy="603.9" rx="2.2" ry="1.0" transform="rotate(150 1153.1 603.9)"/>
<ellipse cx="1151.8" cy="611.0" rx="1.7" ry="0.7" transform="rotate(136 1151.8 611.0)"/>
<ellipse cx="1153.1" cy="616.2" rx="1.5" ry="0.9" transform="rotate(4 1153.1 616.2)"/>
<ellipse cx="1151.4" cy="623.6" rx="2.5" ry="1.2" transform="rotate(102 1151.4 623.6)"/>
<ellipse cx="1151.5" cy="630.7" rx="1.2" ry="0.9" transform="rotate(144 1151.5 630.7)"/>
<ellipse cx="1151.0" cy="638.2" rx="1.2" ry="0.7" transform="rotate(141 1151.0 638.2)"/>
<ellipse cx="1146.7" cy="645.6" rx="2.5" ry="1.0" transform="rotate(132 1146.7 645.6)"/>
<ellipse cx="1143.5" cy="647.9" rx="1.4" ry="1.1" transform="rotate(114 1143.5 647.9)"/>
<ellipse cx="1139.5" cy="652.1" rx="1.6" ry="0.9" transform="rotate(116 1139.5 652.1)"/>
<ellipse cx="1132.9" cy="655.3" rx="2.2" ry="1.4" transform="rotate(137 1132.9 655.3)"/>
<ellipse cx="1125.0" cy="657.2" rx="1.3" ry="1.0" transform="rotate(70 1125.0 657.2)"/>
<ellipse cx="1121.2" cy="658.1" rx="1.9" ry="1.1" transform="rotate(121 1121.2 658.1)"/>
<ellipse cx="1111.9" cy="659.1" rx="1.9" ry="1.2" transform="rotate(129 1111.9 659.1)"/>
<ellipse cx="1108.1" cy="659.7" rx="1.6" ry="0.9" transform="rotate(73 1108.1 659.7)"/>
<ellipse cx="1104.2" cy="659.4" rx="2.2" ry="1.3" transform="rotate(153 1104.2 659.4)"/>
<ellipse cx="1098.3" cy="659.2" rx="2.0" ry="1.0" transform="rotate(159 1098.3 659.2)"/>
<ellipse cx="1093.6" cy="658.4" rx="1.9" ry="1.1" transform="rotate(94 1093.6 658.4)"/>
<ellipse cx="1088.5" cy="656.9" rx="1.8" ry="0.9" transform="rotate(75 1088.5 656.9)"/>
<ellipse cx="1084.9" cy="656.3" rx="1.7" ry="0.7" transform="rotate(133 1084.9 656.3)"/>
<ellipse cx="1079.7" cy="654.1" rx="1.7" ry="1.1" transform="rotate(30 1079.7 654.1)"/>
<ellipse cx="1075.3" cy="651.0" rx="2.1" ry="0.8" transform="rotate(52 1075.3 651.0)"/>
<ellipse cx="1069.0" cy="645.9" rx="1.1" ry="0.8" transform="rotate(55 1069.0 645.9)"/>
<ellipse cx="1067.2" cy="641.5" rx="1.7" ry="0.9" transform="rotate(139 1067.2 641.5)"/>
<ellipse cx="1065.7" cy="638.2" rx="1.6" ry="1.1" transform="rotate(82 1065.7 638.2)"/>
<ellipse cx="1064.6" cy="634.7" rx="1.2" ry="0.7" transform="rotate(6 1064.6 634.7)"/>
<ellipse cx="1064.6" cy="629.1" rx="1.5" ry="1.1" transform="rotate(39 1064.6 629.1)"/>
<ellipse cx="1063.7" cy="621.2" rx="1.3" ry="0.7" transform="rotate(107 1063.7 621.2)"/>
<ellipse cx="1062.7" cy="617.5" rx="1.8" ry="1.3" transform="rotate(50 1062.7 617.5)"/>
<ellipse cx="1058.1" cy="612.4" rx="1.5" ry="0.9" transform="rotate(56 1058.1 612.4)"/>
<ellipse cx="1053.1" cy="612.4" rx="1.7" ry="1.3" transform="rotate(86 1053.1 612.4)"/>
<ellipse cx="1043.6" cy="611.0" rx="1.6" ry="1.0" transform="rotate(164 1043.6 611.0)"/>
</g>
<!-- ================= SCALE BAR ================= -->
<g id="scale" transform="rotate(0.48 359 723.5)">
<path class="k" d="M359,718.6 L361,719.3 L604,719.3 L604,728.3 L359,728.3 Z"/>
<rect x="410" y="722.2" width="46.5" height="3.4" class="w"/>
<rect x="507" y="722.2" width="46.5" height="3.4" class="w"/>
<rect x="603" y="720.6" width="241" height="6.4" fill="#fff" stroke="#000" stroke-width="2.6"/>
<path d="M843.6,718 L844.4,730" stroke="#000" stroke-width="2.4" fill="none"/>
</g>
<g class="num">
<text x="359.5" y="709.5" textLength="11" lengthAdjust="spacingAndGlyphs">0</text>
<text x="596.5" y="709.5" textLength="11" lengthAdjust="spacingAndGlyphs">5</text>
<text x="840" y="711" textLength="35.5" lengthAdjust="spacingAndGlyphs">10m</text>
</g>
</svg>
</body>
</html>
